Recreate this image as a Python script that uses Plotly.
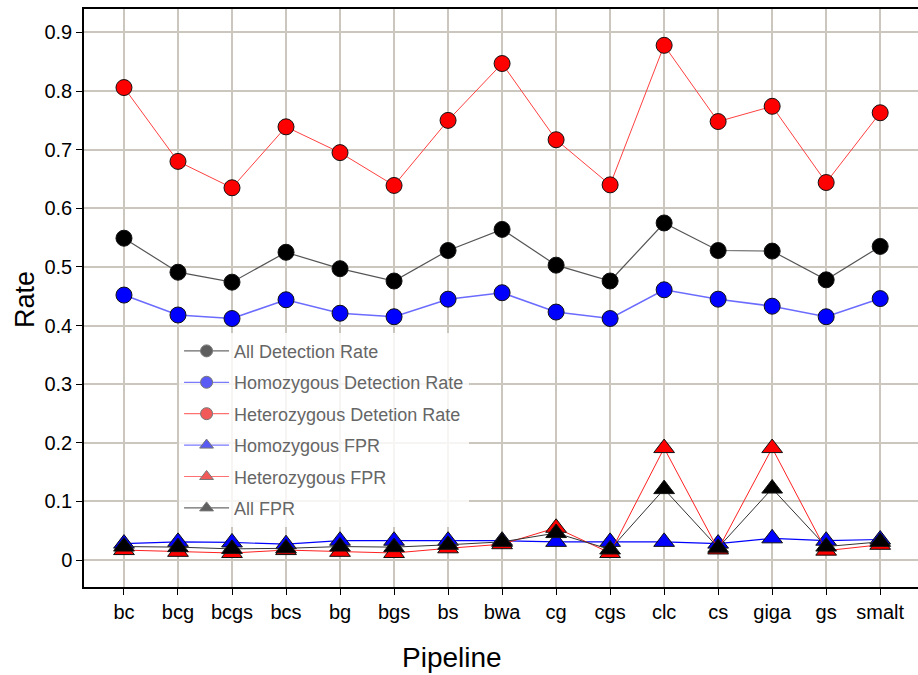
import plotly.graph_objects as go

pipelines = ["bc", "bcg", "bcgs", "bcs", "bg", "bgs", "bs", "bwa", "cg", "cgs",
             "clc", "cs", "giga", "gs", "smalt"]

all_detection = [0.549, 0.491, 0.474, 0.525, 0.497, 0.476, 0.528, 0.564, 0.503, 0.476,
                 0.575, 0.528, 0.527, 0.478, 0.535]
homo_detection = [0.452, 0.418, 0.412, 0.444, 0.421, 0.415, 0.445, 0.456, 0.423, 0.412,
                  0.461, 0.445, 0.433, 0.415, 0.446]
hetero_detection = [0.806, 0.680, 0.635, 0.739, 0.695, 0.639, 0.750, 0.847, 0.717, 0.640,
                    0.878, 0.748, 0.774, 0.644, 0.763]
homo_fpr = [0.028, 0.031, 0.030, 0.027, 0.033, 0.033, 0.033, 0.033, 0.031, 0.031,
            0.031, 0.028, 0.037, 0.033, 0.035]
hetero_fpr = [0.017, 0.014, 0.012, 0.017, 0.014, 0.012, 0.020, 0.027, 0.055, 0.012,
              0.191, 0.018, 0.191, 0.016, 0.026]
all_fpr = [0.023, 0.022, 0.019, 0.020, 0.023, 0.022, 0.026, 0.031, 0.046, 0.018,
           0.121, 0.021, 0.122, 0.023, 0.031]

x_idx = list(range(len(pipelines)))

# name, values, marker colour, line colour, line width, symbol, size, legend marker colour
series = [
    ("All Detection Rate", all_detection, "#000000", "#555555", 1.2, "circle", 16, "#5e5e5e"),
    ("Homozygous Detection Rate", homo_detection, "#0000ff", "#6b6bff", 1.6, "circle", 16, "#5a5af5"),
    ("Heterozygous Detetion Rate", hetero_detection, "#ff0000", "#ff4040", 1.0, "circle", 16, "#f25a5a"),
    ("Homozygous FPR", homo_fpr, "#0000ff", "#0000ff", 1.2, "triangle-up", 18, "#5a5af5"),
    ("Heterozygous FPR", hetero_fpr, "#ff0000", "#ff2020", 1.0, "triangle-up", 18, "#f25a5a"),
    ("All FPR", all_fpr, "#000000", "#333333", 1.0, "triangle-up", 18, "#5e5e5e"),
]

legend_line = {"#555555": "#6a6a6a", "#6b6bff": "#7a7aff", "#ff4040": "#ff7070",
               "#0000ff": "#7a7aff", "#ff2020": "#ff7070", "#333333": "#6a6a6a"}

fig = go.Figure()
for i, (name, vals, mcol, lcol, lw, sym, size, lgcol) in enumerate(series):
    fig.add_trace(go.Scatter(
        x=x_idx, y=vals, name=name, mode="lines+markers", showlegend=False,
        line=dict(color=lcol, width=lw),
        marker=dict(symbol=sym, size=size, color=mcol,
                    line=dict(color="#111111", width=1)),
    ))

# legend entries (lighter symbols, as in the reference legend)
for i, (name, vals, mcol, lcol, lw, sym, size, lgcol) in enumerate(series):
    fig.add_trace(go.Scatter(
        x=[None], y=[None], name=name, mode="lines+markers", showlegend=True,
        legendgroup=f"g{i}",
        line=dict(color=legend_line[lcol], width=1.2),
        marker=dict(symbol=sym, size=12, color=lgcol,
                    line=dict(color="#777777", width=1)),
    ))

grid_col = "#cbc7bf"
fig.update_layout(
    width=918, height=675,
    margin=dict(l=84, r=0, t=9, b=88),
    plot_bgcolor="white", paper_bgcolor="white",
    font=dict(family="Arial, Liberation Sans, sans-serif", color="#000000"),
    showlegend=True,
    legend=dict(
        x=0.114, y=0.44, xanchor="left", yanchor="top",
        bgcolor="rgba(255,255,255,0.82)",
        font=dict(size=18, color="#666666", family="Arial, Liberation Sans, sans-serif"),
        tracegroupgap=5,
        itemwidth=45,
    ),
    xaxis=dict(
        tickmode="array", tickvals=x_idx, ticktext=pipelines,
        range=[-0.74, 14.7],
        showgrid=True, gridcolor=grid_col, gridwidth=1.5,
        showline=True, linecolor="black", linewidth=1.5, mirror=True,
        ticks="outside", ticklen=6, tickcolor="black",
        tickfont=dict(size=20, family="Liberation Sans Narrow, Arial, sans-serif"),
        zeroline=False,
    ),
    yaxis=dict(
        range=[-0.046, 0.94],
        tickvals=[0, 0.1, 0.2, 0.3, 0.4, 0.5, 0.6, 0.7, 0.8, 0.9],
        ticktext=["0", "0.1", "0.2", "0.3", "0.4", "0.5", "0.6", "0.7", "0.8", "0.9"],
        showgrid=True, gridcolor=grid_col, gridwidth=1.5,
        showline=True, linecolor="black", linewidth=1.5,
        ticks="outside", ticklen=6, tickcolor="black",
        tickfont=dict(size=20),
        zeroline=False,
    ),
    annotations=[
        dict(text="Pipeline", xref="paper", yref="paper",
             x=(452 - 84) / 834, y=-(657 - 587) / 578,
             xanchor="center", yanchor="middle", showarrow=False,
             font=dict(size=28, family="Liberation Sans Narrow, Arial, sans-serif")),
        dict(text="Rate", xref="paper", yref="paper",
             x=-(84 - 25) / 834, y=(587 - 300) / 578,
             xanchor="center", yanchor="middle", showarrow=False, textangle=-90,
             font=dict(size=27)),
    ],
)

fig.write_html("out.html")
